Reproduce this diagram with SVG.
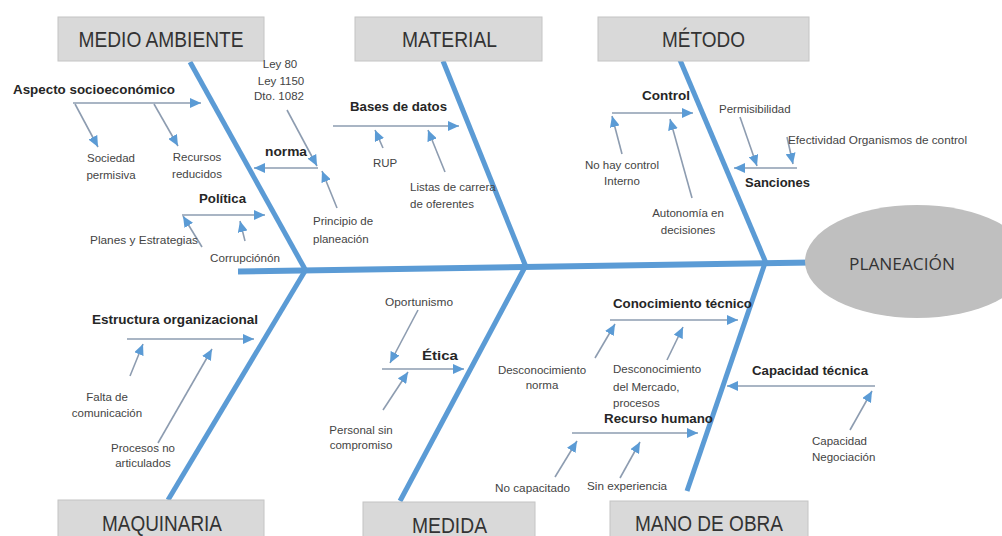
<svg xmlns="http://www.w3.org/2000/svg" width="1002" height="536" viewBox="0 0 1002 536">
<style>
.box{fill:#d9d9d9;stroke:#c4c4c4;stroke-width:1}
.cat{font-family:"Liberation Sans",Arial,sans-serif;font-size:22px;fill:#333;text-anchor:middle}
.b{font-family:"Liberation Sans",Arial,sans-serif;font-size:13px;font-weight:bold;fill:#262626}
.t{font-family:"Liberation Sans",Arial,sans-serif;font-size:11.5px;fill:#444}
.m{text-anchor:middle}
.bone{stroke:#5b9bd5;stroke-width:5;fill:none;stroke-linecap:butt}
.arr{stroke:#8d9cb0;stroke-width:1.6;fill:none;marker-end:url(#ah)}
</style>
<defs>
<marker id="ah" markerUnits="userSpaceOnUse" markerWidth="11" markerHeight="10" refX="11" refY="5" orient="auto">
<path d="M0,0 L11,5 L0,10 z" fill="#5b9bd5"/>
</marker>
</defs>
<rect width="1002" height="536" fill="#ffffff"/>

<g id="connectors">
<line class="bone" x1="238" y1="271.5" x2="812" y2="262.5" style="stroke-width:6"/>
<line class="bone" x1="190" y1="62" x2="306" y2="271"/>
<line class="bone" x1="443" y1="61" x2="526" y2="267"/>
<line class="bone" x1="680" y1="60" x2="766" y2="263"/>
<line class="bone" x1="305" y1="271" x2="168" y2="500"/>
<line class="bone" x1="525" y1="267" x2="400" y2="501"/>
<line class="bone" x1="765" y1="263" x2="687" y2="491"/>

<line class="arr" x1="73" y1="103" x2="201" y2="103"/>
<line class="arr" x1="318" y1="168" x2="254" y2="168"/>
<line class="arr" x1="182" y1="215" x2="265" y2="215"/>
<line class="arr" x1="333" y1="126" x2="459" y2="126"/>
<line class="arr" x1="612" y1="113" x2="693" y2="113"/>
<line class="arr" x1="797" y1="168" x2="734" y2="168"/>
<line class="arr" x1="127" y1="339" x2="254" y2="339"/>
<line class="arr" x1="382" y1="369" x2="464" y2="369"/>
<line class="arr" x1="610" y1="320" x2="738" y2="320"/>
<line class="arr" x1="875" y1="386" x2="727" y2="386"/>
<line class="arr" x1="572" y1="433" x2="698" y2="433"/>

<line class="arr" x1="75" y1="104" x2="98" y2="147"/>
<line class="arr" x1="154" y1="104" x2="178" y2="146"/>
<line class="arr" x1="287" y1="110" x2="317" y2="166"/>
<line class="arr" x1="337" y1="208" x2="322" y2="171"/>
<line class="arr" x1="202" y1="247" x2="183" y2="216"/>
<line class="arr" x1="245" y1="241" x2="240" y2="221"/>
<line class="arr" x1="383" y1="148" x2="375" y2="130"/>
<line class="arr" x1="445" y1="172" x2="428" y2="130"/>
<line class="arr" x1="622" y1="154" x2="612" y2="116"/>
<line class="arr" x1="692" y1="198" x2="670" y2="119"/>
<line class="arr" x1="740" y1="117" x2="757" y2="166"/>
<line class="arr" x1="787" y1="137" x2="793" y2="164"/>
<line class="arr" x1="130" y1="376" x2="143" y2="344"/>
<line class="arr" x1="158" y1="443" x2="212" y2="349"/>
<line class="arr" x1="418" y1="310" x2="390" y2="363"/>
<line class="arr" x1="383" y1="410" x2="408" y2="372"/>
<line class="arr" x1="595" y1="358" x2="615" y2="324"/>
<line class="arr" x1="667" y1="360" x2="683" y2="327"/>
<line class="arr" x1="850" y1="430" x2="872" y2="391"/>
<line class="arr" x1="555" y1="477" x2="577" y2="441"/>
<line class="arr" x1="620" y1="478" x2="640" y2="442"/>
</g>

<g id="medio-ambiente"><rect class="box" x="58" y="17" width="206" height="44"/><text class="cat" x="161" y="47" textLength="165" lengthAdjust="spacingAndGlyphs">MEDIO AMBIENTE</text></g>
<g id="material"><rect class="box" x="355" y="17" width="187" height="44"/><text class="cat" x="449.5" y="47" textLength="95" lengthAdjust="spacingAndGlyphs">MATERIAL</text></g>
<g id="metodo"><rect class="box" x="598" y="17" width="211" height="44"/><text class="cat" x="703.5" y="47" textLength="83" lengthAdjust="spacingAndGlyphs">MÉTODO</text></g>
<g id="maquinaria"><rect class="box" x="58" y="500" width="206" height="44"/><text class="cat" x="162" y="531" textLength="120" lengthAdjust="spacingAndGlyphs">MAQUINARIA</text></g>
<g id="medida"><rect class="box" x="363" y="502" width="172" height="44"/><text class="cat" x="449.5" y="533" textLength="75" lengthAdjust="spacingAndGlyphs">MEDIDA</text></g>
<g id="mano-de-obra"><rect class="box" x="610" y="501" width="198" height="44"/><text class="cat" x="709" y="531" textLength="148" lengthAdjust="spacingAndGlyphs">MANO DE OBRA</text></g>
<g id="planeacion"><ellipse cx="917" cy="261.5" rx="112" ry="56.5" fill="#bfbfbf"/><text x="902" y="270" font-family="'Open Sans','Noto Sans',sans-serif" font-size="16" fill="#333" text-anchor="middle" textLength="106" lengthAdjust="spacingAndGlyphs">PLANEACIÓN</text></g>

<g id="aspecto"><text class="b" x="13" y="94" textLength="162" lengthAdjust="spacingAndGlyphs">Aspecto socioeconómico</text></g>
<g id="sociedad"><text class="t m" x="111" y="162">Sociedad</text><text class="t m" x="111" y="179">permisiva</text></g>
<g id="recursos"><text class="t m" x="197" y="161">Recursos</text><text class="t m" x="197" y="178">reducidos</text></g>
<g id="leyes"><text class="t m" x="280" y="68">Ley 80</text><text class="t m" x="281" y="85">Ley 1150</text><text class="t m" x="279" y="100">Dto. 1082</text></g>
<g id="norma"><text class="b" x="265" y="156" textLength="42" lengthAdjust="spacingAndGlyphs">norma</text></g>
<g id="principio"><text class="t" x="313" y="225">Principio de</text><text class="t" x="313" y="243">planeación</text></g>
<g id="politica"><text class="b" x="199" y="203" textLength="47" lengthAdjust="spacingAndGlyphs">Política</text></g>
<g id="planes"><text class="t" x="90" y="244" textLength="108" lengthAdjust="spacingAndGlyphs">Planes y Estrategias</text></g>
<g id="corrupcion"><text class="t" x="210" y="262" textLength="70" lengthAdjust="spacingAndGlyphs">Corrupciónón</text></g>

<g id="bases"><text class="b" x="350" y="111" textLength="97" lengthAdjust="spacingAndGlyphs">Bases de datos</text></g>
<g id="rup"><text class="t" x="373" y="167">RUP</text></g>
<g id="listas"><text class="t" x="410" y="191">Listas de carrera</text><text class="t" x="410" y="208">de oferentes</text></g>

<g id="control"><text class="b" x="642" y="100" textLength="48" lengthAdjust="spacingAndGlyphs">Control</text></g>
<g id="no-hay-control"><text class="t m" x="622" y="169">No hay control</text><text class="t m" x="622" y="185">Interno</text></g>
<g id="autonomia"><text class="t m" x="688" y="217">Autonomía en</text><text class="t m" x="688" y="234">decisiones</text></g>
<g id="permisibilidad"><text class="t" x="719" y="113">Permisibilidad</text></g>
<g id="efectividad"><text class="t" x="788" y="144" textLength="179" lengthAdjust="spacingAndGlyphs">Efectividad Organismos de control</text></g>
<g id="sanciones"><text class="b" x="745" y="187" textLength="65" lengthAdjust="spacingAndGlyphs">Sanciones</text></g>

<g id="estructura"><text class="b" x="92" y="324" textLength="166" lengthAdjust="spacingAndGlyphs">Estructura organizacional</text></g>
<g id="falta"><text class="t m" x="107" y="401">Falta de</text><text class="t m" x="107" y="417">comunicación</text></g>
<g id="procesos-no"><text class="t m" x="143" y="452">Procesos no</text><text class="t m" x="143" y="467">articulados</text></g>

<g id="oportunismo"><text class="t" x="385" y="306" textLength="68" lengthAdjust="spacingAndGlyphs">Oportunismo</text></g>
<g id="etica"><text class="b" x="422" y="360" textLength="36" lengthAdjust="spacingAndGlyphs">Ética</text></g>
<g id="personal"><text class="t m" x="361" y="434">Personal sin</text><text class="t m" x="361" y="449">compromiso</text></g>

<g id="conocimiento"><text class="b" x="613" y="308" textLength="139" lengthAdjust="spacingAndGlyphs">Conocimiento técnico</text></g>
<g id="desc-norma"><text class="t m" x="542" y="374">Desconocimiento</text><text class="t m" x="542" y="389">norma</text></g>
<g id="desc-mercado"><text class="t" x="613" y="373">Desconocimiento</text><text class="t" x="613" y="391">del Mercado,</text><text class="t" x="613" y="407">procesos</text></g>
<g id="capacidad-tecnica"><text class="b" x="752" y="375" textLength="116" lengthAdjust="spacingAndGlyphs">Capacidad técnica</text></g>
<g id="capacidad-neg"><text class="t" x="812" y="445">Capacidad</text><text class="t" x="812" y="461">Negociación</text></g>
<g id="recurso-humano"><text class="b" x="604" y="423" textLength="109" lengthAdjust="spacingAndGlyphs">Recurso humano</text></g>
<g id="no-capacitado"><text class="t" x="495" y="492" textLength="75" lengthAdjust="spacingAndGlyphs">No capacitado</text></g>
<g id="sin-experiencia"><text class="t" x="587" y="490" textLength="80" lengthAdjust="spacingAndGlyphs">Sin experiencia</text></g>
</svg>
